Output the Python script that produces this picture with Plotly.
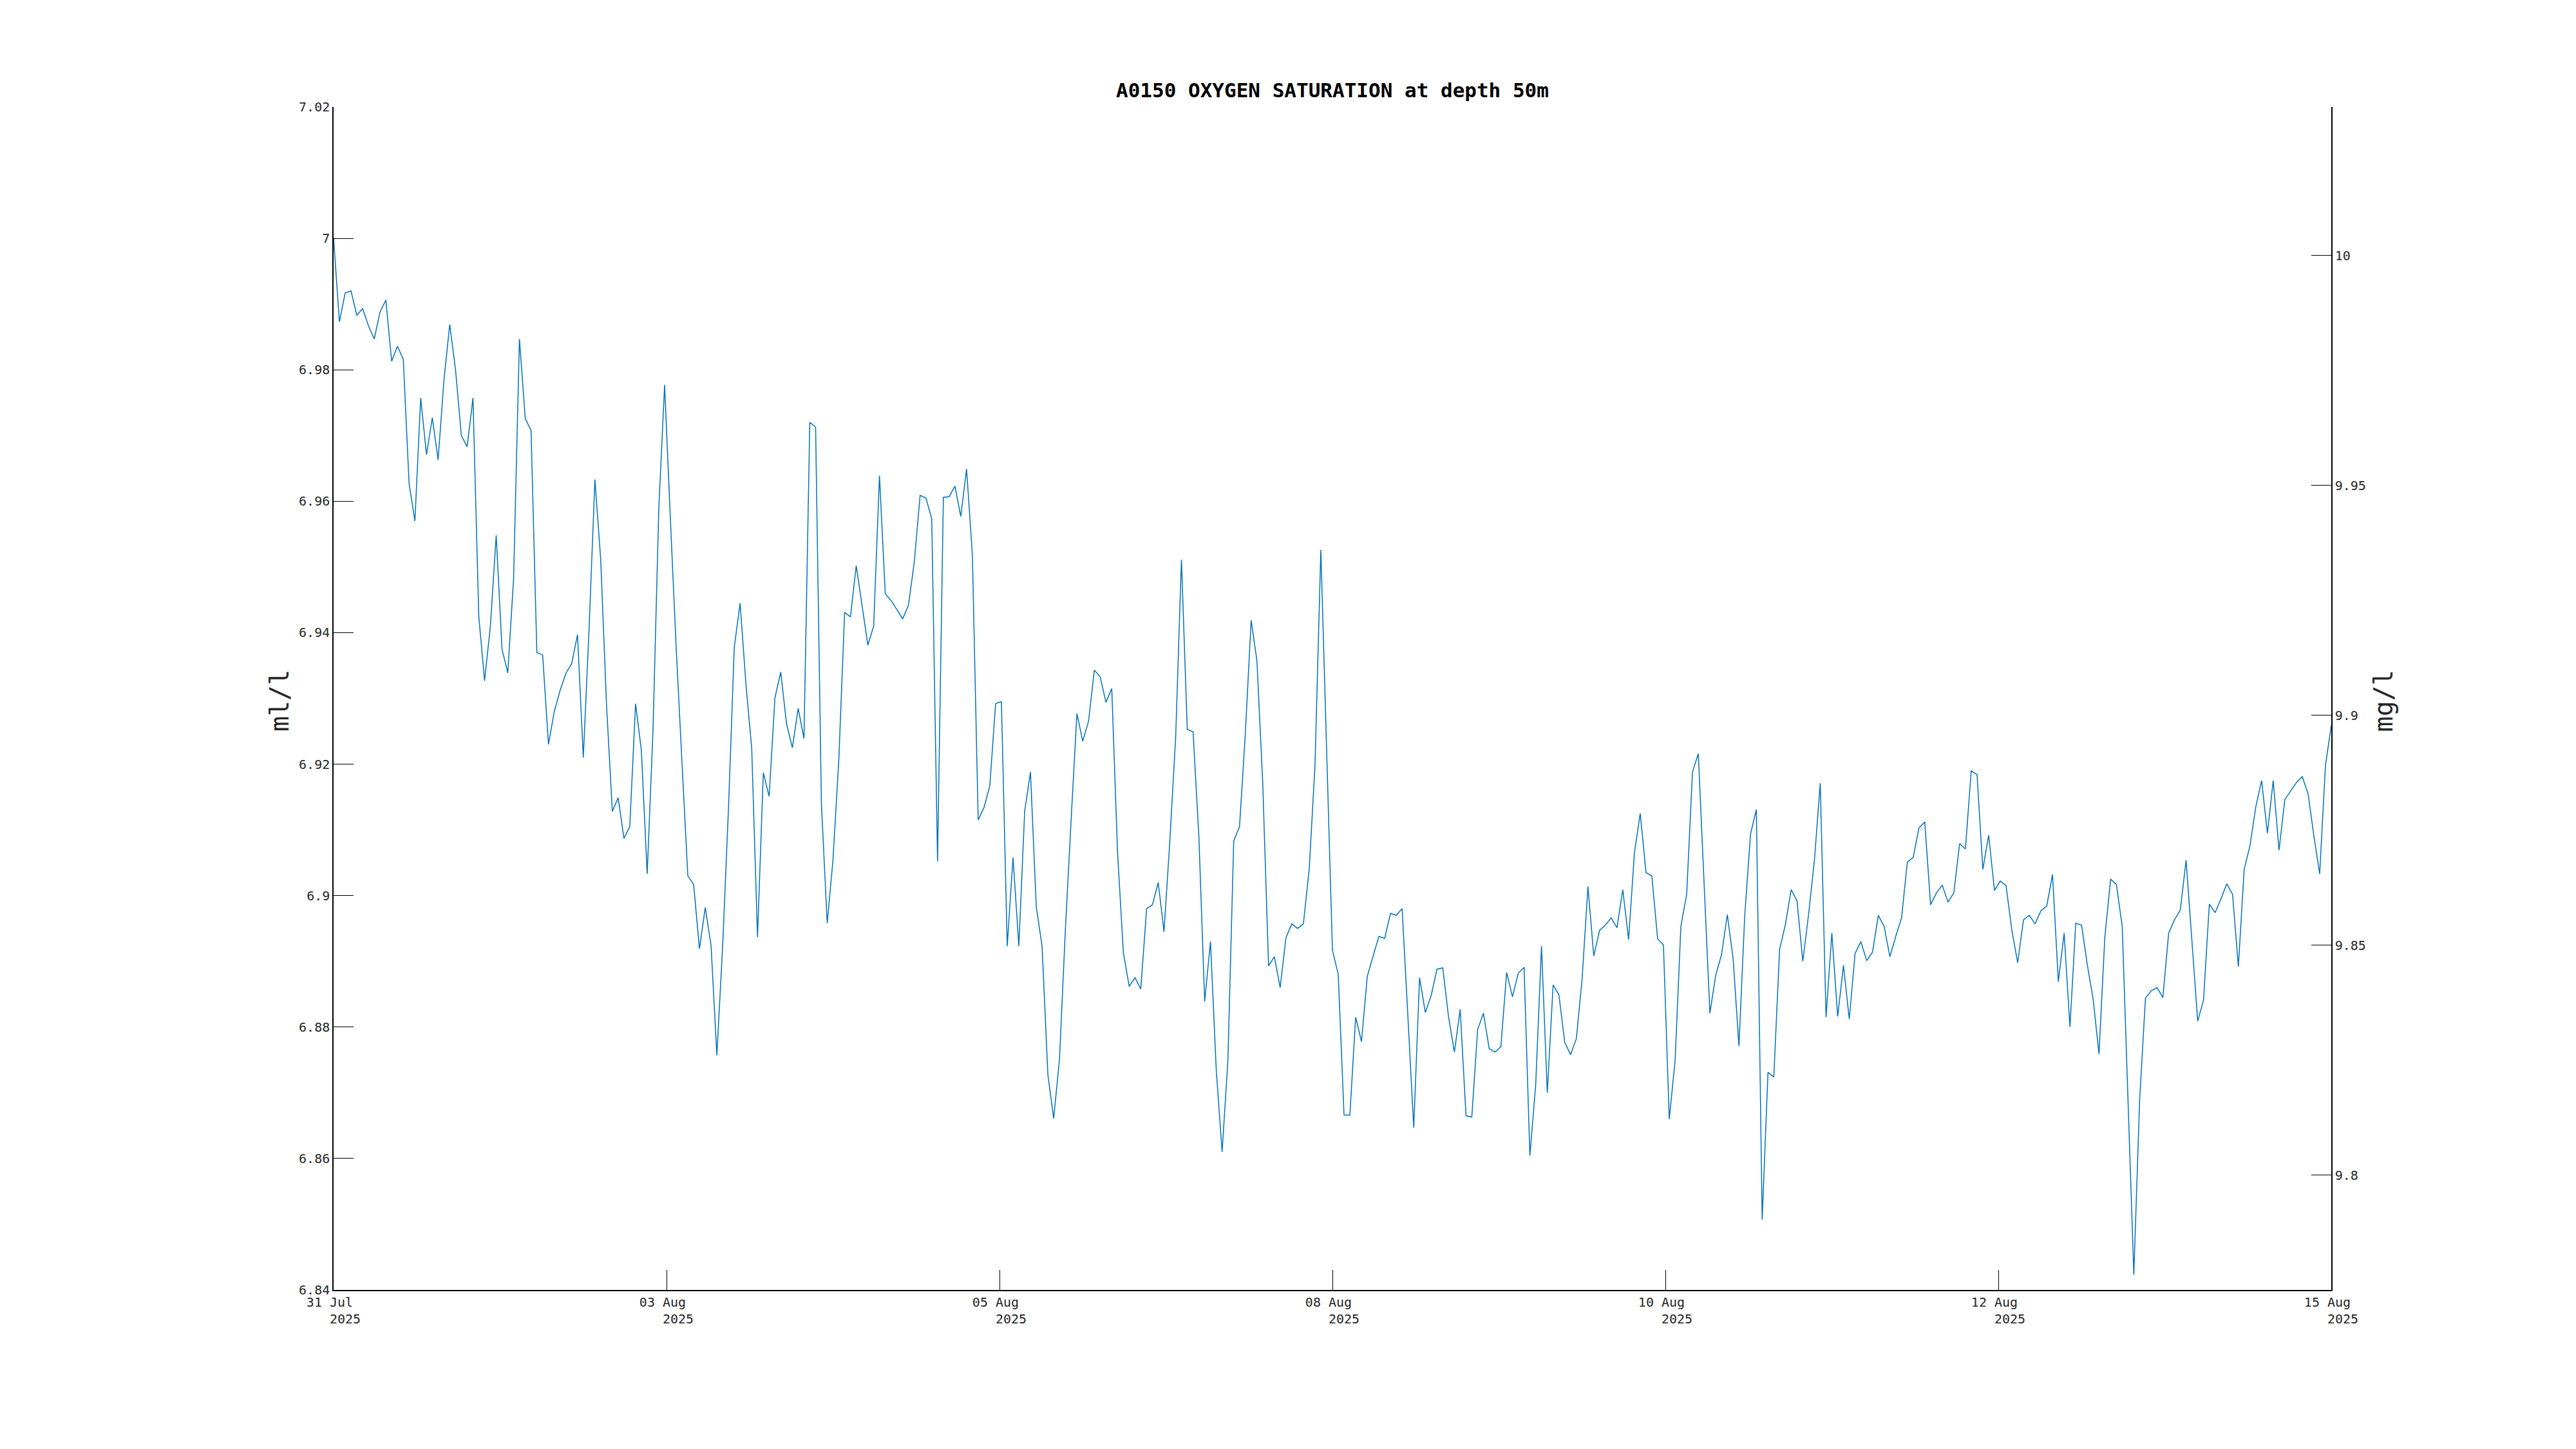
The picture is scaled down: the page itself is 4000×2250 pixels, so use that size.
import pandas as pd
import plotly.graph_objects as go

# ---- data: oxygen (ml/l), in six 2.5-day blocks ----
seg1 = [7.000, 6.9873, 6.9917, 6.9920, 6.9883, 6.9893, 6.9867, 6.9847, 6.9888, 6.9906,
        6.9813, 6.9836, 6.9816, 6.9627, 6.9570, 6.9757, 6.9671, 6.9727, 6.9663, 6.9784,
        6.9869, 6.9800, 6.9700, 6.9683, 6.9757, 6.9425, 6.9327, 6.9410, 6.9548, 6.9375,
        6.9339, 6.9483, 6.9847, 6.9726, 6.9708, 6.9370, 6.9366, 6.9230, 6.9280, 6.9312,
        6.9338, 6.9353, 6.9397, 6.9210, 6.9407, 6.9633, 6.9511, 6.9290, 6.9128, 6.9149,
        6.9087, 6.9105, 6.9292, 6.9221, 6.9033, 6.9251, 6.9589, 6.9777]
seg2 = [6.9572, 6.9376, 6.9201, 6.9030, 6.9017, 6.8919, 6.8982, 6.8924, 6.8757, 6.8924,
        6.9133, 6.9378, 6.9445, 6.9322, 6.9224, 6.8937, 6.9187, 6.9151, 6.9301, 6.9340,
        6.9261, 6.9225, 6.9285, 6.9239, 6.9720, 6.9713, 6.9140, 6.8958, 6.9055, 6.9207,
        6.9431, 6.9424, 6.9502, 6.9443, 6.9381, 6.9410, 6.9639, 6.9459, 6.9449, 6.9435,
        6.9421, 6.9442, 6.9508, 6.9609, 6.9605, 6.9573, 6.9052, 6.9606, 6.9607, 6.9623,
        6.9577, 6.9649, 6.9518, 6.9115, 6.9134, 6.9167, 6.9292, 6.9295]
seg3 = [6.8923, 6.9058, 6.8923, 6.9128, 6.9188, 6.8983, 6.8923, 6.8727, 6.8661, 6.8751,
        6.8946, 6.9115, 6.9277, 6.9235, 6.9265, 6.9343, 6.9333, 6.9294, 6.9315, 6.9065,
        6.8913, 6.8862, 6.8875, 6.8858, 6.8980, 6.8986, 6.9020, 6.8945, 6.9083, 6.9240,
        6.9511, 6.9253, 6.9249, 6.9090, 6.8839, 6.8930, 6.8734, 6.8610, 6.8749, 6.9083,
        6.9105, 6.9246, 6.9419, 6.9357, 6.9171, 6.8893, 6.8907, 6.8860, 6.8936, 6.8957,
        6.8950, 6.8957, 6.9040, 6.9199, 6.9526, 6.9221, 6.8917, 6.8880]
seg4 = [6.8666, 6.8666, 6.8815, 6.8778, 6.8877, 6.8908, 6.8938, 6.8935, 6.8973, 6.8970,
        6.8980, 6.8815, 6.8647, 6.8875, 6.8822, 6.8848, 6.8888, 6.8890, 6.8815, 6.8762,
        6.8827, 6.8665, 6.8663, 6.8796, 6.8821, 6.8767, 6.8762, 6.8770, 6.8883, 6.8846,
        6.8882, 6.8891, 6.8604, 6.8712, 6.8923, 6.8700, 6.8864, 6.8849, 6.8777, 6.8758,
        6.8782, 6.8874, 6.9014, 6.8908, 6.8947, 6.8955, 6.8966, 6.8951, 6.9009, 6.8933,
        6.9065, 6.9125, 6.9035, 6.9030, 6.8934, 6.8925, 6.8660]
seg5 = [6.8748, 6.8953, 6.9002, 6.9188, 6.9216, 6.9015, 6.8821, 6.8879, 6.8910, 6.8971,
        6.8904, 6.8771, 6.8970, 6.9094, 6.9131, 6.8507, 6.8731, 6.8724, 6.8918, 6.8956,
        6.9009, 6.8992, 6.8900, 6.8972, 6.9054, 6.9171, 6.8815, 6.8943, 6.8816, 6.8894,
        6.8812, 6.8912, 6.8930, 6.8901, 6.8914, 6.8970, 6.8953, 6.8907, 6.8938, 6.8966,
        6.9051, 6.9058, 6.9103, 6.9112, 6.8986, 6.9004, 6.9016, 6.8990, 6.9004, 6.9079,
        6.9071, 6.9190, 6.9184, 6.9040, 6.9092, 6.9008, 6.9022]
seg6 = [6.9015, 6.8947, 6.8898, 6.8963, 6.8970, 6.8957, 6.8977, 6.8984, 6.9032, 6.8869,
        6.8943, 6.8800, 6.8958, 6.8955, 6.8894, 6.8842, 6.8759, 6.8936, 6.9025, 6.9017,
        6.8953, 6.8689, 6.8423, 6.8689, 6.8844, 6.8855, 6.8860, 6.8845, 6.8943, 6.8963,
        6.8978, 6.9054, 6.8930, 6.8809, 6.8841, 6.8987, 6.8974, 6.8995, 6.9018, 6.9002,
        6.8892, 6.9040, 6.9076, 6.9135, 6.9175, 6.9095, 6.9175, 6.9069, 6.9146, 6.9159,
        6.9172, 6.9181, 6.9155, 6.9091, 6.9033, 6.9198, 6.9259]

oxygen_mll = seg1 + seg2 + seg3 + seg4 + seg5 + seg6

start_time = "2025-07-31 00:00"
end_time = "2025-08-15 00:00"
times = pd.date_range(start_time, end_time, periods=len(oxygen_mll))

x_tick_text = ["31 Jul", "03 Aug", "05 Aug", "08 Aug", "10 Aug", "12 Aug", "15 Aug"]
x_tick_year = "2025"
y_left_ticks = [6.84, 6.86, 6.88, 6.90, 6.92, 6.94, 6.96, 6.98, 7.00, 7.02]
y_left_text = ["6.84", "6.86", "6.88", "6.9", "6.92", "6.94", "6.96", "6.98", "7", "7.02"]
y_right_ticks = [9.80, 9.85, 9.90, 9.95, 10.00]
y_right_text = ["9.8", "9.85", "9.9", "9.95", "10"]
ML_TO_MG = 1.4291
y_range = [6.84, 7.02]

# ---- figure ----
FONT = "DejaVu Sans Mono"
TXT = "#262626"
NB = "\u00a0"

t0 = pd.Timestamp(start_time)
t1 = pd.Timestamp(end_time)
span = t1 - t0
tickvals = [t0 + span * i / 6 for i in range(7)]
ticktext = [f"{lab}{NB}<br>{NB*3}{x_tick_year}" for lab in x_tick_text]

fig = go.Figure()
fig.add_trace(go.Scatter(x=times, y=oxygen_mll, mode="lines",
                         line=dict(color="#0072BD", width=1.5),
                         showlegend=False, name="ml/l"))
fig.add_trace(go.Scatter(x=times, y=[v * ML_TO_MG for v in oxygen_mll], mode="lines",
                         line=dict(color="rgba(0,0,0,0)", width=0),
                         yaxis="y2", showlegend=False, hoverinfo="skip", name="mg/l"))

axis_common = dict(showgrid=False, zeroline=False, showline=True, linecolor="black",
                   linewidth=1.5, ticks="inside", ticklen=31, tickwidth=1.2,
                   tickcolor="black", tickfont=dict(family=FONT, size=20, color=TXT))

# the page body adds an 8 px offset; margins are compensated for it
fig.update_layout(
    width=4000, height=2250,
    paper_bgcolor="white", plot_bgcolor="white",
    margin=dict(l=510, r=388, t=158, b=255, pad=0),
    title=dict(text="<b>A0150 OXYGEN SATURATION at depth 50m</b>",
               font=dict(family=FONT, size=31, color="black"),
               x=0.5, xref="paper", xanchor="center",
               y=1 - 132 / 2250, yref="container", yanchor="middle"),
    xaxis=dict(range=[t0, t1], tickmode="array", tickvals=tickvals, ticktext=ticktext,
               automargin=False, **axis_common),
    yaxis=dict(range=y_range, tickmode="array", tickvals=y_left_ticks, ticktext=y_left_text,
               automargin=False, **axis_common),
    yaxis2=dict(range=[y_range[0] * ML_TO_MG, y_range[1] * ML_TO_MG], overlaying="y",
                side="right", tickmode="array", tickvals=y_right_ticks,
                ticktext=y_right_text, automargin=False, **axis_common),
    annotations=[
        dict(text="ml/l", xref="paper", yref="paper", x=-0.0271, y=0.498,
             xanchor="center", yanchor="middle", textangle=-90, showarrow=False,
             font=dict(family=FONT, size=40, color=TXT)),
        dict(text="mg/l", xref="paper", yref="paper", x=1.0262, y=0.498,
             xanchor="center", yanchor="middle", textangle=-90, showarrow=False,
             font=dict(family=FONT, size=40, color=TXT)),
    ],
)

fig.write_html("out.html")
